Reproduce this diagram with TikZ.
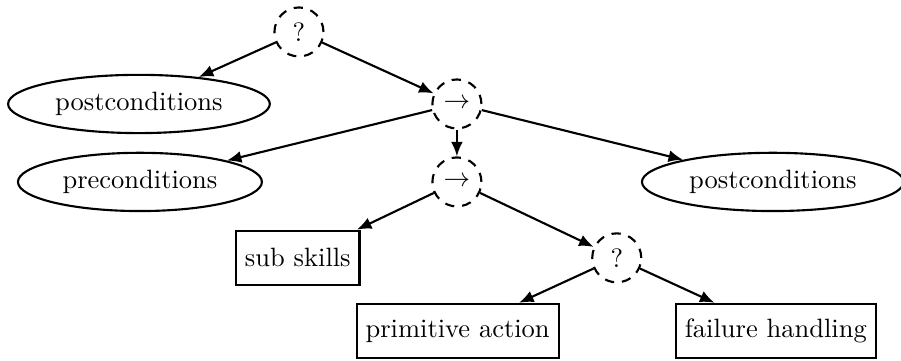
\documentclass[tikz,border=0pt]{standalone}
\usetikzlibrary{shapes.geometric, arrows.meta}

\begin{document}
\begin{tikzpicture}[
    scale=1,
    ctrl/.style={circle, draw, dash pattern=on 3.5pt off 3pt, thick, minimum size=0.65cm, inner sep=0pt},
    cond/.style={ellipse, draw, thick, minimum height=0.76cm},
    leaf/.style={rectangle, draw, thick, minimum height=0.72cm},
    edge/.style={-{Latex[length=5.5pt, width=4.5pt]}, thick}
  ]
    \useasboundingbox (0, 0) rectangle (11.95, -4.775);

    % ノードの定義
    \node[ctrl] (R) at (3.965, -0.424) {?};
    \node[cond] (P1) at (1.843, -1.379) {postconditions};
    \node[ctrl] (S1) at (6.06, -1.379) {$\rightarrow$};
    \node[cond] (Q) at (1.856, -2.413) {preconditions};
    \node[ctrl] (S2) at (6.06, -2.413) {$\rightarrow$};
    \node[cond] (P2) at (10.25, -2.413) {postconditions};
    \node[leaf] (K) at (3.95, -3.42) {sub skills};
    \node[ctrl] (F) at (8.18, -3.42) {?};
    \node[leaf] (A) at (6.07, -4.39) {primitive action};
    \node[leaf] (H) at (10.29, -4.39) {failure handling};

    % 有向エッジを引く
    \draw[edge] (R) -- (P1);
    \draw[edge] (R) -- (S1);
    \draw[edge] (S1) -- (Q);
    \draw[edge] (S1) -- (S2);
    \draw[edge] (S1) -- (P2);
    \draw[edge] (S2) -- (K);
    \draw[edge] (S2) -- (F);
    \draw[edge] (F) -- (A);
    \draw[edge] (F) -- (H);

  \end{tikzpicture}
\end{document}
